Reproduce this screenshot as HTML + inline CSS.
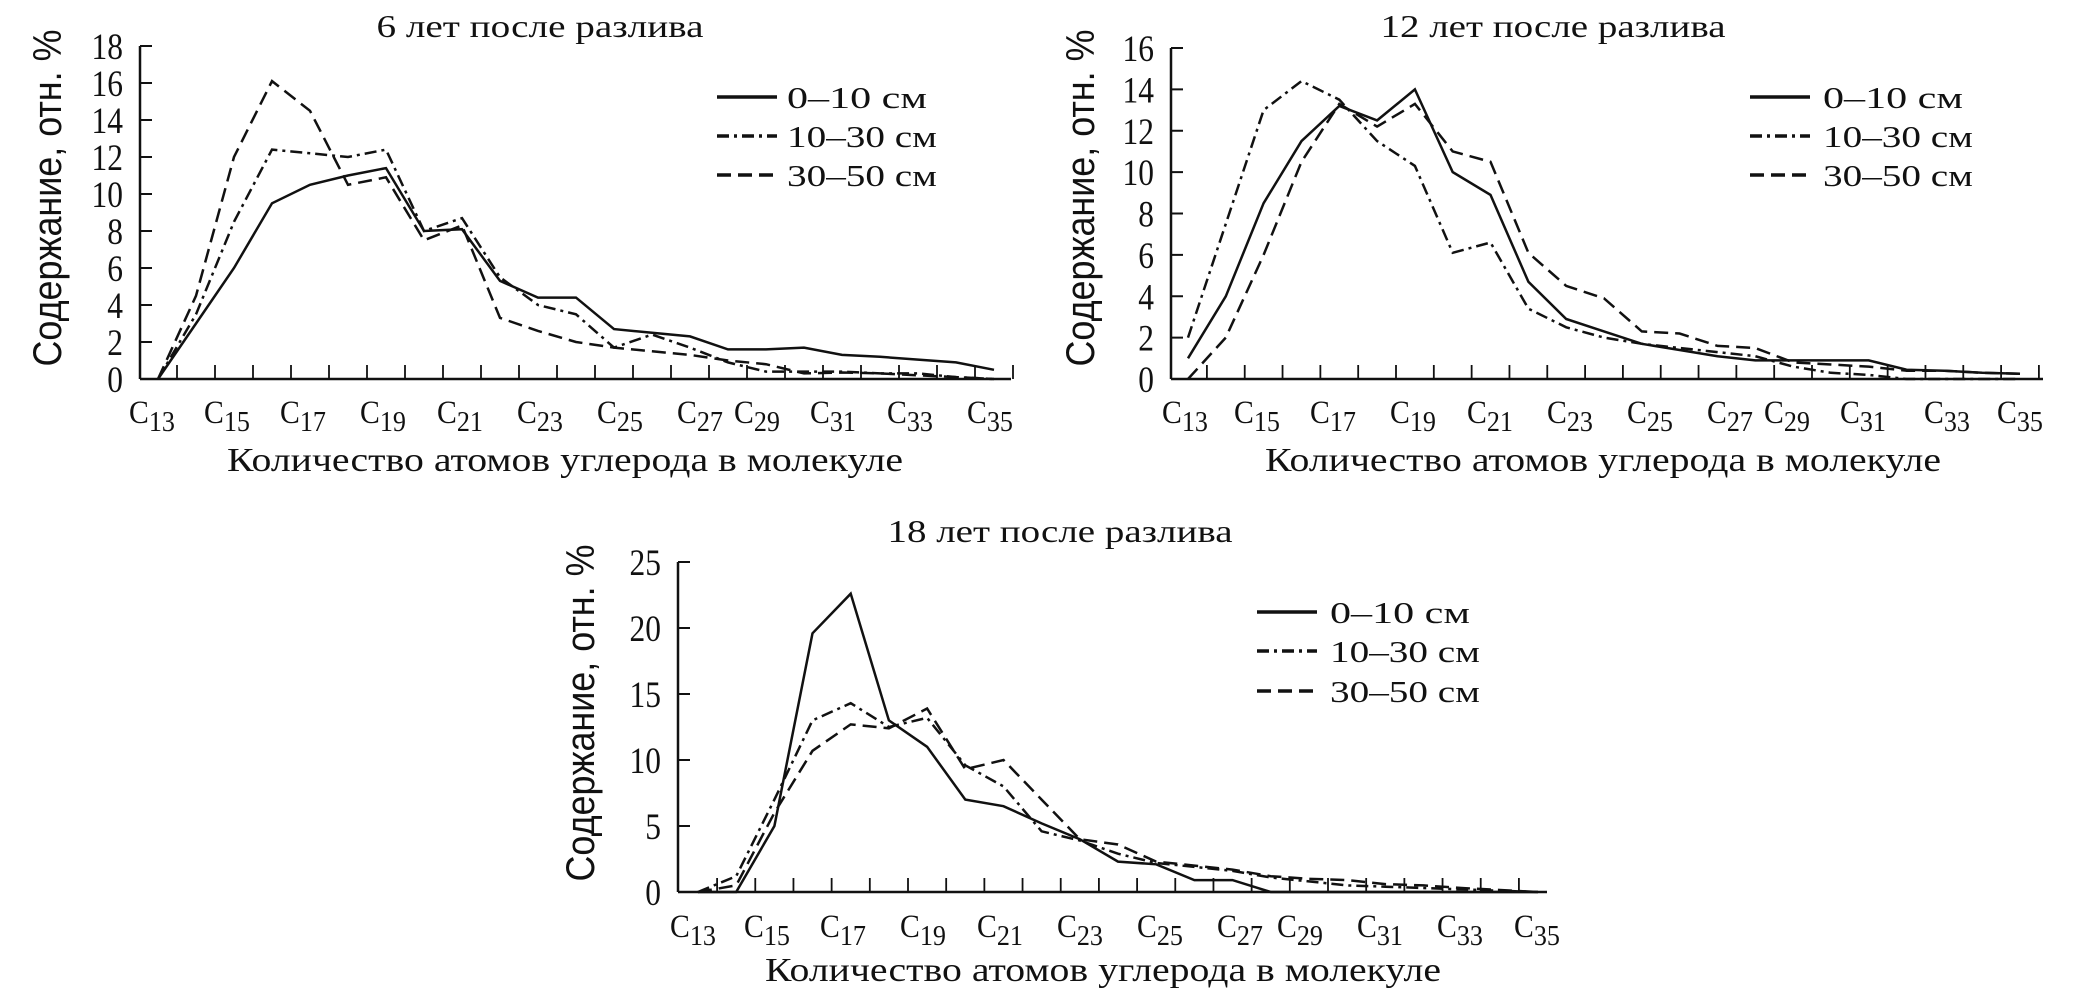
<!DOCTYPE html>
<html><head><meta charset="utf-8">
<style>
html,body{margin:0;padding:0;background:#fff;}
svg{display:block;}
text{font-family:"Liberation Serif","DejaVu Serif",serif;fill:#111;}
</style></head>
<body>
<svg id="fig" width="2079" height="991" viewBox="0 0 2079 991" xmlns="http://www.w3.org/2000/svg"></svg>
<script>
const categories = ["13","14","15","16","17","18","19","20","21","22","23","24","25","26","27","28","29","30","31","32","33","34","35"];
const seriesNames = ["0–10 см","10–30 см","30–50 см"];
const c1Shallow = [0,3,6,9.5,10.5,11,11.4,8,8.1,5.3,4.4,4.4,2.7,2.5,2.3,1.6,1.6,1.7,1.3,1.2,1.05,0.9,0.5];
const c1Mid = [0,3.5,8.5,12.4,12.2,12.0,12.4,8,8.7,5.5,4,3.5,1.7,2.4,1.7,0.9,0.4,0.4,0.4,0.3,0.3,0.1,0];
const c1Deep = [0,4.5,12,16.1,14.5,10.5,10.9,7.5,8.3,3.3,2.6,2.0,1.7,1.5,1.3,1.0,0.8,0.3,0.35,0.3,0.2,0.1,0];
const c2Shallow = [1,4,8.5,11.5,13.2,12.5,14,10,8.9,4.7,2.9,2.3,1.7,1.4,1.1,0.9,0.9,0.9,0.9,0.45,0.4,0.3,0.25];
const c2Mid = [2,7.5,13,14.4,13.5,11.5,10.3,6.1,6.6,3.4,2.5,2.0,1.7,1.5,1.3,1.1,0.6,0.3,0.2,0,0,0,0];
const c2Deep = [0,2,6,10.5,13.3,12.2,13.3,11,10.5,6.1,4.5,3.9,2.3,2.2,1.6,1.5,0.8,0.7,0.6,0.4,0.4,0.3,0.25];
const c3Shallow = [0,0,5,19.6,22.6,13,11,7,6.5,5.2,4,2.3,2.1,0.9,0.9,0,0,0,0,0,0,0,0];
const c3Mid = [0,1.2,7,13,14.3,12.5,13.2,9.6,8,4.6,3.9,2.9,2.2,1.9,1.6,1.1,0.8,0.5,0.4,0.3,0.2,0.1,0];
const c3Deep = [0,0.5,6,10.7,12.7,12.4,13.9,9.3,10,7,4,3.6,2.3,2.0,1.7,1.2,1.0,0.9,0.6,0.5,0.3,0.15,0];
const c1Ticks = [0,2,4,6,8,10,12,14,16,18];
const c2Ticks = [0,2,4,6,8,10,12,14,16];
const c3Ticks = [0,5,10,15,20,25];
const xLabels = ["13","15","17","19","21","23","25","27","29","31","33","35"];
const titles = ["6 лет после разлива","12 лет после разлива","18 лет после разлива"];

const NS="http://www.w3.org/2000/svg";
const svg=document.getElementById('fig');
function mk(tag,attrs,parent){const e=document.createElementNS(NS,tag);for(const k in attrs)e.setAttribute(k,attrs[k]);(parent||svg).appendChild(e);return e;}
const dashes=["none","12,5,3,5","14,7"];
const legLens=[140,150,150];

const layouts=[
 {ax:140,x0:158,x1:994,base:379,top:46,xend:1011,ymax:18,ticks:c1Ticks,data:[c1Shallow,c1Mid,c1Deep],
  lbl:[152,227,303,383,460,540,620,700,757,833,910,990],lblY:423,title:540,titleY:37,xt:565,xtY:471,yt:47,ytY:198,
  legX1:717,legX2:777,legT:787,legY:[97,136,175]},
 {ax:1171,x0:1188,x1:2020,base:379,top:48,xend:2043,ymax:16,ticks:c2Ticks,data:[c2Shallow,c2Mid,c2Deep],
  lbl:[1185,1257,1333,1413,1490,1570,1650,1730,1787,1863,1947,2020],lblY:423,title:1553,titleY:37,xt:1603,xtY:471,yt:1080,ytY:198,
  legX1:1750,legX2:1810,legT:1823,legY:[97,136,175]},
 {ax:678,x0:698,x1:1538,base:892,top:562,xend:1547,ymax:25,ticks:c3Ticks,data:[c3Shallow,c3Mid,c3Deep],
  lbl:[693,767,843,923,1000,1080,1160,1240,1300,1380,1460,1537],lblY:937,title:1060,titleY:542,xt:1103,xtY:981,yt:580,ytY:713,
  legX1:1257,legX2:1317,legT:1330,legY:[612,651,691]}
];

layouts.forEach((L,ci)=>{
  const g=mk('g',{});
  
  
  const n=categories.length;
  const xs=i=>L.x0+(L.x1-L.x0)*i/(n-1);
  const ys=v=>L.base-(L.base-L.top)*v/L.ymax;
  const step=(L.x1-L.x0)/(n-1);
  const t=mk('text',{x:L.title,y:L.titleY,'font-size':32,'text-anchor':'middle',textLength:ci===0?327:345,lengthAdjust:'spacingAndGlyphs'},g);
  t.textContent=titles[ci];
  
  
  const ya=mk('line',{x1:L.ax,y1:L.top,x2:L.ax,y2:L.base,stroke:'#111','stroke-width':2.5},g);
  
  
  const xa=mk('line',{x1:L.ax,y1:L.base,x2:L.xend,y2:L.base,stroke:'#111','stroke-width':2.5},g);
  
  
  L.ticks.forEach(v=>{
    const tk=mk('line',{x1:L.ax,y1:ys(v),x2:L.ax+12,y2:ys(v),stroke:'#111','stroke-width':2},g);
    
    
    const tl=mk('text',{x:0,y:0,'font-size':37,'text-anchor':'end',transform:`translate(${L.ax-17},${ys(v)+13}) scale(0.85,1)`},g);
    tl.textContent=v;
    
    
  });
  for(let i=0;i<n;i++){
    const xx=xs(i)+step/2;
    if(xx>L.xend+2)continue;
    const tk=mk('line',{x1:xx,y1:L.base,x2:xx,y2:L.base-14,stroke:'#111','stroke-width':1.8},g);
    
    
  }
  xLabels.forEach((lb,i)=>{
    const tx=mk('text',{x:0,y:0,'font-size':33,'text-anchor':'middle',transform:`translate(${L.lbl[i]},${L.lblY}) scale(0.9,1)`},g);
    const s1=mk('tspan',{},tx);s1.textContent='C';
    const s2=mk('tspan',{'font-size':29,dy:8},tx);s2.textContent=lb;
    
    
  });
  const xt=mk('text',{x:L.xt,y:L.xtY,'font-size':34,'text-anchor':'middle',textLength:676,lengthAdjust:'spacingAndGlyphs'},g);
  xt.textContent='Количество атомов углерода в молекуле';
  
  
  const yt=mk('text',{x:0,y:0,'font-size':40,'text-anchor':'middle',textLength:337,lengthAdjust:'spacingAndGlyphs',transform:`translate(${L.yt+14},${L.ytY}) rotate(-90)`,style:'font-family:"Liberation Sans",sans-serif'},g);
  yt.textContent='Содержание, отн. %';
  
  
  L.data.forEach((arr,si)=>{
    const d=arr.map((v,i)=>(i?'L':'M')+xs(i).toFixed(1)+','+ys(v).toFixed(1)).join(' ');
    const p=mk('path',{d:d,fill:'none',stroke:'#111','stroke-width':2.5,'stroke-linejoin':'miter'},g);
    if(dashes[si]!=='none')p.setAttribute('stroke-dasharray',dashes[si]);
    
    
    const ll=mk('line',{x1:L.legX1,y1:L.legY[si],x2:L.legX2,y2:L.legY[si],stroke:'#111','stroke-width':3.5},g);
    if(dashes[si]!=='none')ll.setAttribute('stroke-dasharray',dashes[si]);
    
    
    const lt=mk('text',{x:L.legT,y:L.legY[si]+11,'font-size':31,textLength:legLens[si],lengthAdjust:'spacingAndGlyphs'},g);
    lt.textContent=seriesNames[si];
    
    
  });
});
</script>
</body></html>
